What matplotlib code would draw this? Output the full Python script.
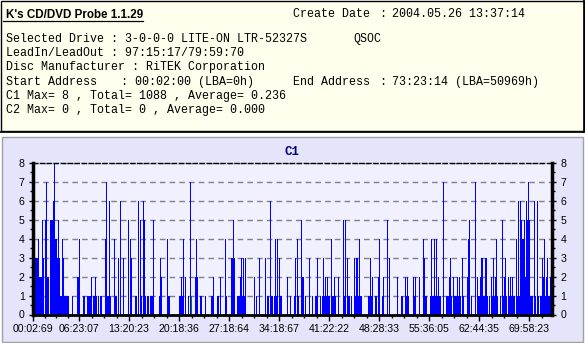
import matplotlib
matplotlib.use("Agg")
import matplotlib.pyplot as plt
import numpy as np
from matplotlib.patches import Rectangle
from matplotlib.lines import Line2D

# C1 error counts, one value per plotted sample column
c1_part1 = [3, 3, 3, 3, 4, 2, 2, 2, 5, 3, 0, 5, 7, 2, 2, 0, 5, 5, 5, 6,
            8, 4, 4, 3, 5, 3, 1, 1, 4, 3, 1, 1, 1, 1, 1, 0, 0, 0, 1, 0,
            0, 0, 0, 2, 2, 4, 0, 0, 0, 1, 1, 0, 0, 1, 1, 1, 1, 2, 0, 1,
            1, 2, 1, 0, 1, 0, 1, 1, 0, 0, 0, 4, 7, 1]
c1_part2 = [1, 6, 1, 0, 0, 0, 4, 1, 1, 0, 3, 0, 6, 0, 0, 3, 0, 0, 0, 0,
            5, 0, 4, 3, 0, 0, 0, 1, 1, 0, 6, 0, 5, 1, 0, 6, 5, 1, 0, 1,
            1, 0, 1, 1, 1, 5, 0, 0, 0, 0, 0, 1, 3, 2, 0, 0, 0, 0, 0, 4,
            1, 1, 0, 0, 0, 0, 0, 0, 0, 0, 0, 1, 1, 2]
c1_part3 = [1, 4, 0, 2, 0, 0, 1, 0, 7, 0, 0, 0, 0, 2, 4, 2, 0, 0, 1, 1,
            0, 0, 0, 1, 0, 0, 0, 0, 0, 1, 1, 2, 0, 0, 0, 1, 1, 0, 2, 0,
            0, 0, 0, 4, 1, 0, 0, 0, 0, 3, 3, 5, 3, 0, 0, 1, 1, 1, 2, 3,
            1, 3, 1, 3, 0, 0, 0, 0, 0, 0, 0, 0, 2, 0]
c1_part4 = [1, 0, 0, 3, 0, 0, 0, 0, 0, 3, 0, 1, 1, 0, 6, 1, 1, 0, 1, 4,
            1, 4, 0, 3, 1, 1, 0, 0, 0, 0, 0, 2, 0, 0, 1, 0, 0, 0, 1, 3,
            0, 4, 1, 0, 0, 5, 2, 2, 0, 1, 0, 0, 0, 3, 0, 0, 1, 0, 0, 1,
            1, 3, 0, 0, 1, 0, 1, 3, 1, 2, 1, 2, 1, 1]
c1_part5 = [0, 4, 1, 1, 2, 1, 0, 0, 2, 0, 0, 0, 0, 5, 1, 5, 0, 3, 1, 1,
            0, 1, 0, 0, 3, 1, 3, 3, 1, 4, 1, 1, 0, 0, 0, 0, 0, 0, 1, 1,
            3, 1, 2, 0, 0, 1, 1, 0, 2, 4, 0, 0, 1, 2, 0, 0, 0, 5, 0, 3,
            0, 0, 0, 0, 0, 0, 0, 2, 0, 0, 0, 1, 1, 0]
c1_part6 = [0, 2, 1, 2, 1, 0, 0, 0, 0, 2, 1, 2, 0, 0, 0, 2, 0, 0, 0, 4,
            3, 1, 1, 0, 0, 0, 1, 4, 1, 1, 4, 1, 4, 1, 2, 1, 1, 0, 0, 7,
            0, 0, 1, 1, 1, 2, 3, 1, 0, 2, 1, 1, 1, 2, 1, 2, 1, 0, 3, 1,
            0, 0, 0, 2, 4, 5, 0, 1, 0, 0, 0, 7, 0, 2]
c1_part7 = [1, 1, 2, 3, 3, 1, 1, 3, 3, 1, 0, 1, 0, 2, 1, 3, 1, 2, 4, 1,
            0, 0, 1, 0, 5, 1, 2, 3, 1, 0, 2, 1, 2, 1, 2, 1, 1, 0, 4, 1,
            6, 1, 6, 5, 4, 4, 5, 2, 6, 5, 7, 5, 1, 1, 1, 0, 6, 1, 0, 6,
            1, 0, 1, 1, 3, 2, 4, 1, 2, 3, 1, 1, 2, 2, 2]

# single column drawn in green
green_pos = [157]
green_val = [1]

time_ticks = [0, 46, 96, 146, 196, 246, 296, 346, 396, 446, 496]
time_labels = ["00:02:69", "06:23:07", "13:20:23", "20:18:36", "27:18:64",
               "34:18:67", "41:22:22", "48:28:33", "55:36:05", "62:44:35",
               "69:58:23"]

header_title = "K's CD/DVD Probe 1.1.29"
left_lines = ["Selected Drive : 3-0-0-0 LITE-ON LTR-52327S",
              "LeadIn/LeadOut : 97:15:17/79:59:70",
              "Disc Manufacturer : RiTEK Corporation",
              "Start Address",
              "C1 Max= 8 , Total= 1088 , Average= 0.236",
              "C2 Max= 0 , Total= 0 , Average= 0.000"]

c1 = np.array(c1_part1 + c1_part2 + c1_part3 + c1_part4 +
              c1_part5 + c1_part6 + c1_part7)
x = np.arange(len(c1))

W, H = 585, 343
MONO = "Liberation Mono"
SANS = "Liberation Sans"


def fx(px):
    return px / W


def fy(py):
    return 1 - py / H


fig = plt.figure(figsize=(W / 100, H / 100), dpi=100)
fig.patch.set_facecolor("white")

# info panel
fig.add_artist(Rectangle((fx(0.5), fy(131)), 583 / W, 130.5 / H,
                         transform=fig.transFigure, facecolor="#FFFFEE",
                         edgecolor="black", lw=1, zorder=-2))
fig.add_artist(Line2D([fx(584), fx(584)], [fy(0), fy(132)], color="black", lw=1.2,
                      transform=fig.transFigure))
fig.add_artist(Line2D([fx(0), fx(584)], [fy(131.8), fy(131.8)], color="black", lw=1.2,
                      transform=fig.transFigure))

fig.text(fx(6), fy(18.3), header_title, family=SANS, fontweight="bold",
         size=8.4, va="baseline")
fig.add_artist(Line2D([fx(3), fx(143)], [fy(20.8), fy(20.8)], color="black", lw=0.9,
                      transform=fig.transFigure))

mono = dict(family=MONO, size=8.4, va="baseline")
baselines = [42, 56.2, 70.4, 84.6, 98.8, 113]
for txt, yb in zip(left_lines, baselines):
    fig.text(fx(6), fy(yb), txt, **mono)
fig.text(fx(121), fy(84.6), ": 00:02:00 (LBA=0h)", **mono)
fig.text(fx(353), fy(42), "QSOC", **mono)
fig.text(fx(293), fy(17.3), "Create Date", **mono)
fig.text(fx(379.5), fy(17.3), ":", **mono)
fig.text(fx(391.5), fy(17.3), "2004.05.26 13:37:14", **mono)
fig.text(fx(293), fy(84.6), "End Address", **mono)
fig.text(fx(379.5), fy(84.6), ":", **mono)
fig.text(fx(391.5), fy(84.6), "73:23:14 (LBA=50969h)", **mono)

# chart panel
fig.add_artist(Rectangle((fx(1.5), fy(341.5)), 581.5 / W, 205 / H,
                         transform=fig.transFigure, facecolor="#E4E4FA",
                         edgecolor="#A0A0A0", lw=1, zorder=-2))
fig.text(fx(292), fy(152), "C1", family=MONO, fontweight="bold", size=9,
         color="#000080", ha="center", va="center")

ax = fig.add_axes([fx(33), fy(314.5), 519 / W, (314.5 - 163) / H])
ax.set_zorder(3)
ax.set_facecolor("#F0F0FF")
# one pixel wide column per sample
ax.vlines(x + 0.5, 0, c1, colors="#0000FF", lw=0.5, antialiased=False)
ax.vlines(np.array(green_pos) + 0.5, 0, green_val, colors="#008000",
          lw=0.5, antialiased=False)

ax.set_xlim(0, 519)
ax.set_ylim(0, 8)
ax.set_yticks(range(0, 9))
ax.yaxis.grid(True, color="#808080", linestyle=(0, (4, 3)), lw=1)
ax.set_axisbelow(True)

minor = []
for a, b in zip(time_ticks[:-1], time_ticks[1:]):
    step = (b - a) / 4
    minor += [a + step, a + 2 * step, a + 3 * step]
minor += [496 + 12.5]
ax.set_xticks(time_ticks)
ax.set_xticklabels(time_labels)
ax.set_xticks(minor, minor=True)
ax.set_yticks(np.arange(0, 8.01, 0.5), minor=True)

ax.tick_params(axis="x", which="major", length=4, width=1, pad=3,
               labelsize=7.6, colors="black")
ax.tick_params(axis="x", which="minor", length=2.5, width=1)
ax.tick_params(axis="y", which="both", left=True, right=True,
               labelleft=True, labelright=True, labelsize=7.6, pad=3)
ax.tick_params(axis="y", which="major", length=3, width=1)
ax.tick_params(axis="y", which="minor", length=2, width=1)
for lab in ax.get_xticklabels() + ax.get_yticklabels():
    lab.set_family(SANS)

ax.spines["left"].set_linewidth(2.5)
ax.spines["right"].set_linewidth(2.5)
ax.spines["bottom"].set_linewidth(2)
ax.spines["top"].set_linewidth(1)
ax.spines["top"].set_linestyle((0, (3, 2)))

fig.savefig("out.png", dpi=100)
